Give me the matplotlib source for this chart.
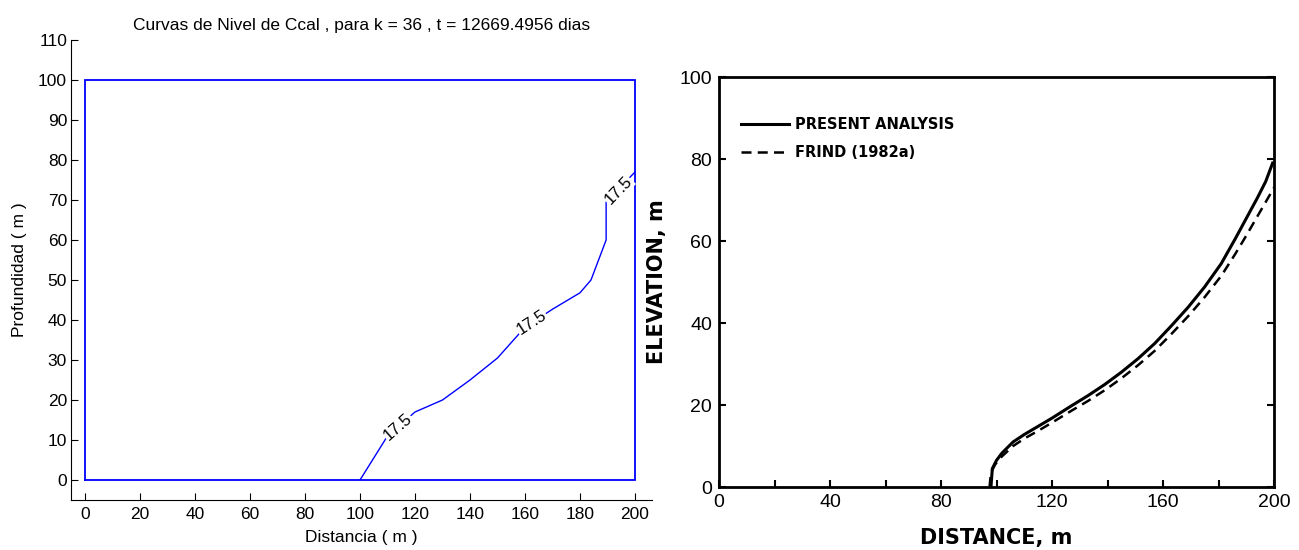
import numpy as np
import matplotlib.pyplot as plt
from matplotlib.lines import Line2D

plt.rcParams['font.family'] = ['Liberation Sans', 'DejaVu Sans']

# --- left panel: computed contour of Ccal ---
level = 17.5
k_step = 36
t_days = 12669.4956

domain_x = [0, 200, 200, 0, 0]
domain_y = [0, 0, 100, 100, 0]

contour_x = [100, 110, 120, 130, 140, 150, 160, 170, 180, 184, 189.5, 189.5, 200]
contour_y = [0, 11, 17, 20, 25, 30.5, 38.2, 42.7, 46.8, 50, 60, 69.5, 77]

# label spots (x, y) and the contour segment each one sits on
label_x = [113.8, 162.5, 194.0]
label_y = [13.3, 39.3, 72.4]
label_seg = [1, 6, 11]

left_xticks = np.arange(0, 201, 20)
left_yticks = np.arange(0, 111, 10)

# --- right panel: published comparison ---
present_x = [98, 98.5, 100, 102, 106, 110, 115, 120, 127, 133, 139, 145, 151,
             157, 163, 169, 175, 181, 186, 190, 194, 197, 199.5]
present_y = [0, 4.5, 6.5, 8.3, 11, 12.8, 14.8, 16.8, 19.8, 22.3, 25, 28, 31.3,
             35, 39.3, 43.8, 48.8, 54.5, 60.5, 65.5, 70.5, 74.5, 79]

frind_x = [97.5, 98, 99.5, 102, 106, 110, 115, 120, 127, 133, 139, 145, 151,
           157, 163, 169, 175, 181, 186, 190, 194, 197, 200]
frind_y = [0, 3.5, 5.5, 7.5, 10, 11.8, 13.7, 15.7, 18.6, 21, 23.6, 26.5, 29.7,
           33.2, 37.3, 41.6, 46.3, 51.5, 56.8, 61.3, 66, 69.5, 73]

right_xticks = np.arange(0, 201, 40)
right_xminor = np.arange(20, 200, 40)
right_yticks = np.arange(0, 101, 20)

W, H = 1299, 550
fig = plt.figure(figsize=(W / 100, H / 100), dpi=100)

# ---------------- left ----------------
ax1 = fig.add_axes([71.25 / W, 50 / H, 580.25 / W, 460 / H])
ax1.set_xlim(-5, 206)
ax1.set_ylim(-5, 110)
ax1.plot(domain_x, domain_y, color='#0000ff', lw=1.3, solid_joinstyle='miter')
ax1.plot(contour_x, contour_y, color='#0000ff', lw=1.0)

for lx, ly, s in zip(label_x, label_y, label_seg):
    ang = np.degrees(np.arctan2(contour_y[s + 1] - contour_y[s],
                                contour_x[s + 1] - contour_x[s]))
    ax1.text(lx, ly, f'{level:g}', rotation=ang, transform_rotates_text=True,
             rotation_mode='anchor', ha='center', va='center', fontsize=12,
             bbox=dict(facecolor='white', edgecolor='none', pad=0.5))

ax1.set_xticks(left_xticks)
ax1.set_yticks(left_yticks)
ax1.spines[['top', 'right']].set_visible(False)
ax1.tick_params(direction='in', length=5, width=0.8, labelsize=12.5, pad=5)
ax1.tick_params(axis='y', pad=3)
ax1.set_title(f'Curvas de Nivel de Ccal , para k = {k_step} , t = {t_days} dias',
              fontsize=12.5, pad=7)
ax1.set_xlabel('Distancia ( m )', fontsize=12.5)
ax1.set_ylabel('Profundidad ( m )', fontsize=12.5)
ax1.xaxis.set_label_coords(0.5, -0.065)
ax1.yaxis.set_label_coords(-0.076, 0.5)

# ---------------- right ----------------
ax2 = fig.add_axes([719 / W, 63 / H, 555 / W, 410 / H])
ax2.set_xlim(0, 200)
ax2.set_ylim(0, 100)
ax2.plot(present_x, present_y, color='black', lw=2.2)
ax2.plot(frind_x, frind_y, color='black', lw=1.8, ls=(0, (4, 2.5)))

for sp in ax2.spines.values():
    sp.set_linewidth(2.0)
ax2.set_xticks(right_xticks)
ax2.set_xticks(right_xminor, minor=True)
ax2.set_yticks(right_yticks)
ax2.tick_params(which='both', direction='in', length=5, width=1.5,
                right=True, labelsize=14, pad=5)

ax2.set_xlabel('DISTANCE, m', fontsize=15, fontweight='bold', family='DejaVu Sans')
ax2.set_ylabel('ELEVATION, m', fontsize=15, fontweight='bold', family='DejaVu Sans')
ax2.xaxis.set_label_coords(0.5, -0.10)
ax2.yaxis.set_label_coords(-0.094, 0.5)

handles = [Line2D([], [], color='black', lw=2.2),
           Line2D([], [], color='black', lw=1.8, ls=(0, (4, 2.5)))]
ax2.legend(handles, ['PRESENT ANALYSIS', 'FRIND (1982a)'], loc='upper left',
           bbox_to_anchor=(0.016, 0.935), frameon=False, handlelength=3.3,
           handletextpad=0.4, labelspacing=0.9,
           prop=dict(family='DejaVu Sans', weight='bold', size=10.5))

fig.savefig('out.png', dpi=100)
